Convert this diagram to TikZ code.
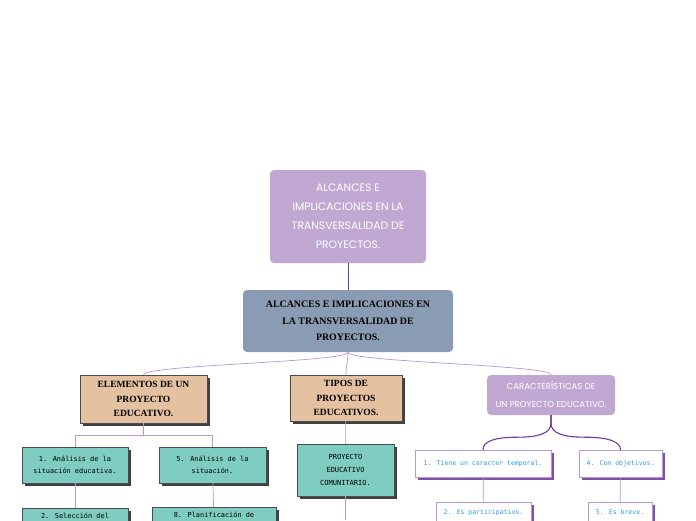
\documentclass[tikz,border=0pt]{standalone}
\usepackage{fontspec}
\setmainfont{Liberation Serif}
\newfontfamily\handfont{Poppins}
\newfontfamily\typefont{DejaVu Sans Mono}
\usetikzlibrary{positioning, shadows}
\definecolor{mapLavender}{RGB}{193, 168, 211}
\definecolor{mapSlate}{RGB}{138, 155, 180}
\definecolor{mapTan}{RGB}{227, 193, 161}
\definecolor{mapTeal}{RGB}{126, 205, 192}
\definecolor{mapPurple}{RGB}{106, 61, 154}
\definecolor{mapLilac}{RGB}{184, 152, 208}
\definecolor{mapBlue}{RGB}{47, 155, 224}
\definecolor{mapShadow}{RGB}{125, 80, 170}

\begin{document}
\begin{tikzpicture}[x=1pt, y=-1pt,
    softbox/.style={rectangle, rounded corners=4pt, fill=#1, align=center, inner sep=2pt},
    titlebox/.style={softbox=mapLavender, text=white, font=\handfont\fontsize{10.8}{19}\selectfont},
    featbox/.style={softbox=mapLavender, text=white, font=\handfont\fontsize{8.6}{18}\selectfont},
    hardbox/.style={rectangle, draw=black!70, fill=#1, align=center, inner sep=2pt,
        drop shadow={shadow xshift=2.5pt, shadow yshift=-2.5pt, fill=black!75, opacity=1}},
    headbox/.style={hardbox=mapTan, font=\bfseries\fontsize{9.5}{14.5}\selectfont},
    itembox/.style={hardbox=mapTeal, font=\typefont\fontsize{6.9}{12}\selectfont},
    tracebox/.style={rectangle, draw=mapLilac, fill=white, text=mapBlue, align=center, inner sep=2pt,
        font=\typefont\fontsize{6.5}{12}\selectfont,
        drop shadow={shadow xshift=2.5pt, shadow yshift=-2.5pt, fill=mapShadow, opacity=1}},
    link/.style={mapLilac, line width=0.7pt},
    brace/.style={mapPurple, line width=1.1pt}
]
\clip (0,0) rectangle (696,520);
\fill[white] (0,0) rectangle (696,520);

% title and central topic
\node[titlebox, minimum width=156, minimum height=93] (title) at (348,216.5)
    {ALCANCES E\\IMPLICACIONES EN LA\\TRANSVERSALIDAD DE\\PROYECTOS.};
\node[softbox=mapSlate, minimum width=210, minimum height=62, font=\bfseries\fontsize{9.9}{16.5}\selectfont] (main) at (348,321)
    {ALCANCES E IMPLICACIONES EN\\LA TRANSVERSALIDAD DE\\PROYECTOS.};
\draw[mapPurple, line width=0.9pt] (title) -- (main);

% main branches
\node[headbox, minimum width=127, minimum height=48] (elem) at (143.5,399)
    {ELEMENTOS DE UN\\PROYECTO\\EDUCATIVO.};
\node[headbox, minimum width=112, minimum height=46] (tipos) at (346,398)
    {TIPOS DE\\PROYECTOS\\EDUCATIVOS.};
\node[featbox, minimum width=128, minimum height=40] (carac) at (551,395)
    {CARACTERÍSTICAS DE\\UN PROYECTO EDUCATIVO.};

\foreach \j in {elem, tipos, carac} {
    \draw[link] (main.south) .. controls +(0,10) and +(0,-10) .. (\j.north);
}

% elementos de un proyecto educativo
\node[itembox, minimum width=106, minimum height=36] (anal1) at (75,465)
    {1. Análisis de la\\situación educativa.};
\node[itembox, minimum width=107, minimum height=36] (anal5) at (212.5,465)
    {5. Análisis de la\\situación.};
\node[itembox, anchor=north, minimum width=106, text height=7pt, text depth=22pt, inner ysep=3pt] (sel2) at (75,508)
    {2. Selección del};
\node[itembox, anchor=north, minimum width=124, text height=7pt, text depth=22pt, inner ysep=3pt] (plan8) at (214,507)
    {8. Planificación de};

\draw[link] (elem.south) -- ++(0,12) -| (anal1.north);
\draw[link] (elem.south) -- ++(0,12) -| (anal5.north);
\foreach \i/\j in {anal1/sel2, anal5/plan8} {
    \draw[link] (\i) -- (\j);
}

% tipos de proyectos
\node[itembox, minimum width=97, minimum height=52, font=\typefont\fontsize{7}{13}\selectfont] (comun) at (345.5,470)
    {PROYECTO\\EDUCATIVO\\COMUNITARIO.};
\coordinate (comunend) at (345.5,520);
\draw[link] (tipos) -- (comun);
\draw[link] (comun) -- (comunend);

% caracteristicas
\node[tracebox, minimum width=136, minimum height=27] (temp1) at (483,463.5) {1. Tiene un caracter temporal.};
\node[tracebox, minimum width=83, minimum height=27] (obj4) at (620.5,463.5) {4. Con objetivos.};
\node[tracebox, anchor=north, minimum width=95, text height=9pt, text depth=13pt, inner ysep=3pt] (part2) at (483.5,502) {2. Es participativo.};
\node[tracebox, anchor=north, minimum width=64, text height=9pt, text depth=13pt, inner ysep=3pt] (brev5) at (620,502) {5. Es breve.};

\draw[brace] (carac.south) -- ++(0,8) .. controls +(0,10) and +(22,0) .. ++(-34,14)
    .. controls +(-24,0) and +(0,-8) .. (temp1.north);
\draw[brace] (carac.south) -- ++(0,8) .. controls +(0,10) and +(-22,0) .. ++(34,14)
    .. controls +(24,0) and +(0,-8) .. (obj4.north);
\foreach \i/\j in {temp1/part2, obj4/brev5} {
    \draw[link] (\i) -- (\j);
}

\end{tikzpicture}
\end{document}
